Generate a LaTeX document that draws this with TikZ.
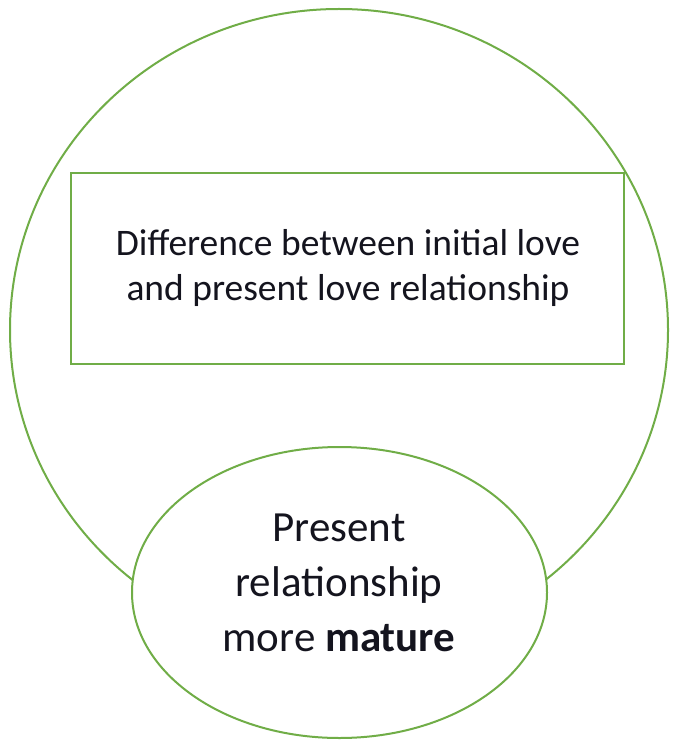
\documentclass[tikz,border=0pt]{standalone}
\usepackage{fontspec}
\setmainfont{Carlito}
\usetikzlibrary{shapes.geometric}
\definecolor{leafgreen}{RGB}{112,173,71}
\definecolor{inkdark}{RGB}{20,20,30}
\tikzset{
  greenline/.style={draw=leafgreen, line width=2pt},
  outerring/.style={greenline, ellipse, inner sep=0pt, minimum width=658pt, minimum height=642pt},
  topbox/.style={greenline, rectangle, inner sep=0pt, minimum width=553pt, minimum height=191pt},
  innerring/.style={greenline, ellipse, fill=white, inner sep=0pt, minimum width=415pt, minimum height=291pt},
  boxtext/.style={text=inkdark, inner sep=0pt, anchor=base, font=\fontsize{37.5}{45}\selectfont},
  ringtext/.style={text=inkdark, inner sep=0pt, anchor=base, font=\fontsize{43}{55}\selectfont}
}
\begin{document}
\begin{tikzpicture}[x=1pt,y=1pt]
\useasboundingbox (0,0) rectangle (673,-743);
\node[outerring] (outer) at (339,-330) {};
\node[topbox] (box) at (347.5,-268.5) {};
\node[boxtext] (l1) at (348,-255) {Difference between initial love};
\node[boxtext] (l2) at (348,-300) {and present love relationship};
\node[innerring] (inner) at (339.5,-592.5) {};
\node[ringtext] (p1) at (339,-541.5) {Present};
\node[ringtext] (p2) at (339,-596.5) {relationship};
\node[ringtext] (p3) at (339,-651.5) {more \textbf{mature}};
\end{tikzpicture}
\end{document}
